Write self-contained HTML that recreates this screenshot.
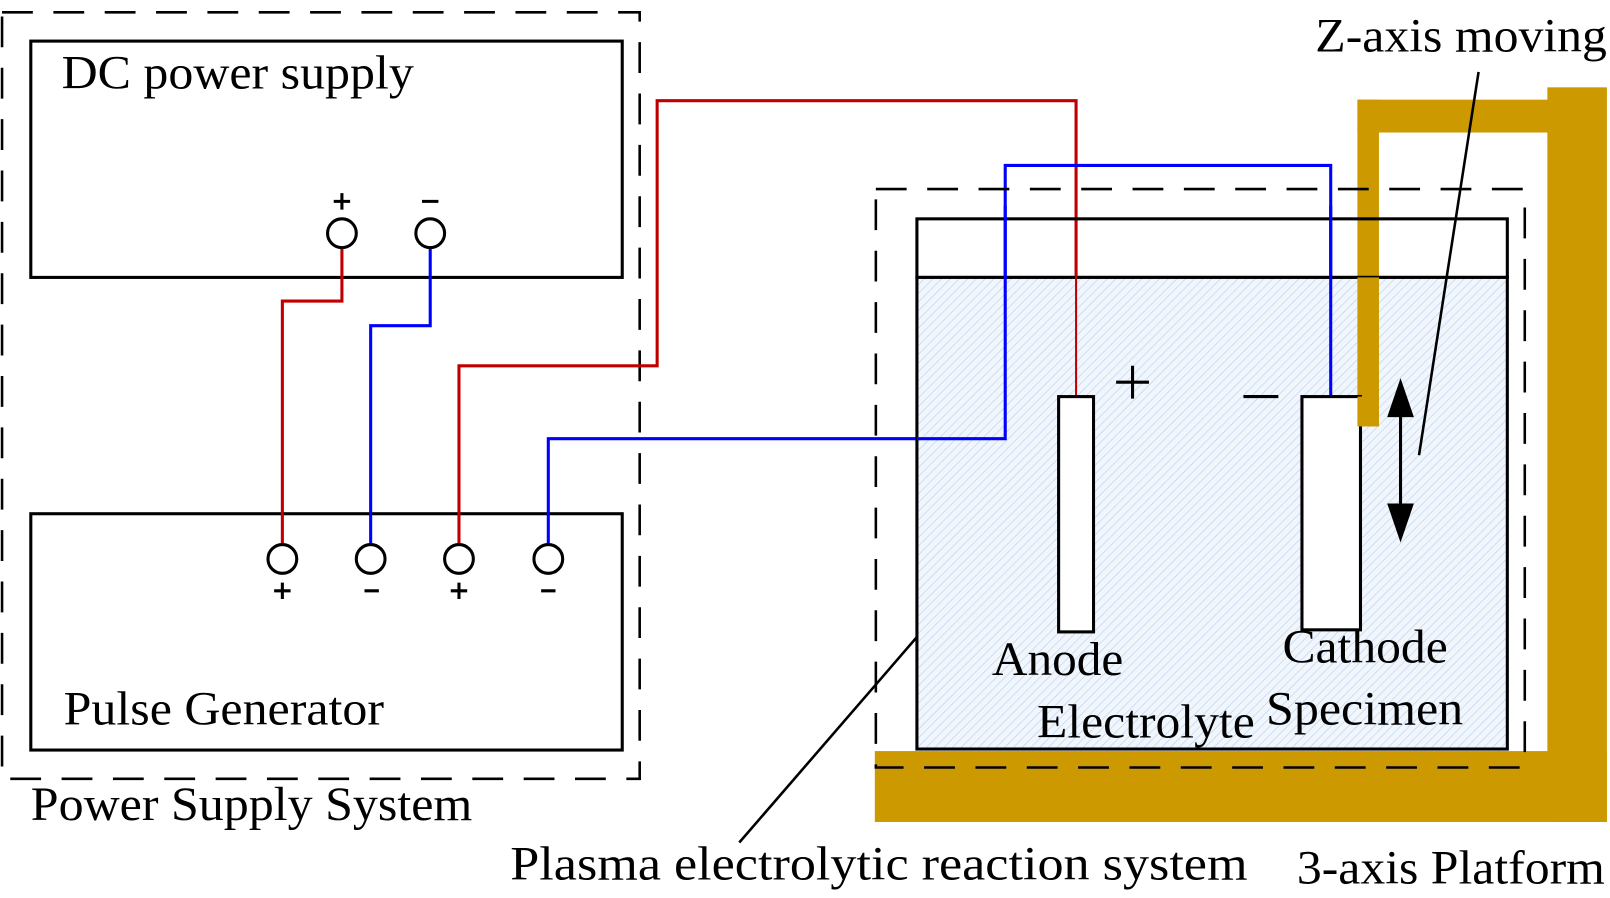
<!DOCTYPE html>
<html><head><meta charset="utf-8"><style>html,body{margin:0;padding:0;background:#fff}svg{display:block}</style></head>
<body>
<svg width="1610" height="898" viewBox="0 0 1568 874" preserveAspectRatio="none" xmlns="http://www.w3.org/2000/svg">
<defs>
<pattern id="h" width="6" height="6" patternUnits="userSpaceOnUse" patternTransform="rotate(45)">
<rect width="6" height="6" fill="#f1f6fc"/>
<line x1="0" y1="0" x2="0" y2="6" stroke="#b9cfee" stroke-width="1.2"/>
</pattern>
</defs>
<g font-family="Liberation Serif, serif" fill="#000">
<!-- left dashed -->
<rect x="2" y="12" width="621" height="746" fill="none" stroke="#000" stroke-width="2.5" stroke-dasharray="30,20"/>
<rect x="30" y="40" width="576" height="230" fill="none" stroke="#000" stroke-width="3"/>
<rect x="30" y="500" width="576" height="230" fill="none" stroke="#000" stroke-width="3"/>
<!-- wires -->
<g fill="none" stroke-width="3">
<polyline points="333,241 333,293 275,293 275,530" stroke="#c00000"/>
<polyline points="419,241 419,317 361,317 361,530" stroke="#0000ff"/>
<polyline points="447,530 447,356 640,356 640,98 1048,98 1048,386" stroke="#c00000"/>
<polyline points="534,530 534,427 979,427 979,161 1296,161 1296,386" stroke="#0000ff"/>
</g>
<g fill="#fff" stroke="#000" stroke-width="3">
<circle cx="333" cy="227" r="14"/><circle cx="419" cy="227" r="14"/>
<circle cx="275" cy="544" r="14"/><circle cx="361" cy="544" r="14"/>
<circle cx="447" cy="544" r="14"/><circle cx="534" cy="544" r="14"/>
</g>
<g stroke="#000" stroke-width="3">
<path d="M325,196h16M333,188v16M411,196h16"/>
<path d="M267,575h16M275,567v16M355,575h14M439,575h16M447,567v16M527,575h14"/>
</g>
<!-- gold platform -->
<g fill="#cc9900">
<rect x="852" y="731" width="713" height="69"/>
<rect x="1507" y="85" width="58" height="715"/>
<rect x="1322" y="97" width="186" height="32"/>
<rect x="1322" y="97" width="21" height="318"/>
</g>
<!-- tank -->
<rect x="893" y="213" width="575" height="57" fill="none" stroke="#000" stroke-width="3"/>
<rect x="893" y="270" width="575" height="459" fill="url(#h)" stroke="#000" stroke-width="3"/>
<!-- wires re-over tank -->
<g fill="none" stroke-width="3">
<line x1="1048" y1="240" x2="1048" y2="386" stroke="#c00000" stroke-width="2"/>
<polyline points="979,200 979,427 893,427" stroke="#0000ff"/>
<line x1="1296" y1="200" x2="1296" y2="386" stroke="#0000ff"/>
</g>
<rect x="1322" y="270" width="21" height="145" fill="#cc9900"/>
<rect x="1031" y="386" width="34" height="229" fill="#fff" stroke="#000" stroke-width="3"/>
<rect x="1268" y="386" width="57" height="227" fill="#fff" stroke="#000" stroke-width="3"/>
<rect x="1322" y="386" width="21" height="29" fill="#cc9900"/>
<!-- right dashed -->
<rect x="853" y="184" width="632" height="563" fill="none" stroke="#000" stroke-width="2.5" stroke-dasharray="30,20"/>
<!-- plus minus -->
<path d="M1087,372h32M1103,356v32M1211,386h34" stroke="#000" stroke-width="3"/>
<!-- arrow -->
<line x1="1364" y1="400" x2="1364" y2="500" stroke="#000" stroke-width="3"/>
<polygon points="1364,368 1351,406 1377,406"/>
<polygon points="1364,528 1351,490 1377,490"/>
<!-- leader lines -->
<line x1="1440" y1="70" x2="1382" y2="443" stroke="#000" stroke-width="2.5"/>
<line x1="893" y1="620" x2="720" y2="820" stroke="#000" stroke-width="2.5"/>
<!-- text -->
<g font-size="46">
<text x="60" y="86" textLength="343" lengthAdjust="spacingAndGlyphs">DC power supply</text>
<text x="62" y="705" textLength="312" lengthAdjust="spacingAndGlyphs">Pulse Generator</text>
<text x="30" y="798" textLength="430" lengthAdjust="spacingAndGlyphs">Power Supply System</text>
<text x="497" y="856" textLength="718" lengthAdjust="spacingAndGlyphs">Plasma electrolytic reaction system</text>
<text x="1263" y="860" textLength="300" lengthAdjust="spacingAndGlyphs">3-axis Platform</text>
<text x="1281" y="50" textLength="284" lengthAdjust="spacingAndGlyphs">Z-axis moving</text>
<text x="966" y="657" textLength="128" lengthAdjust="spacingAndGlyphs">Anode</text>
<text x="1249" y="645" textLength="161" lengthAdjust="spacingAndGlyphs">Cathode</text>
<text x="1010" y="718" textLength="212" lengthAdjust="spacingAndGlyphs">Electrolyte</text>
<text x="1233" y="705" textLength="192" lengthAdjust="spacingAndGlyphs">Specimen</text>
</g>
</g>
</svg>
</body></html>
